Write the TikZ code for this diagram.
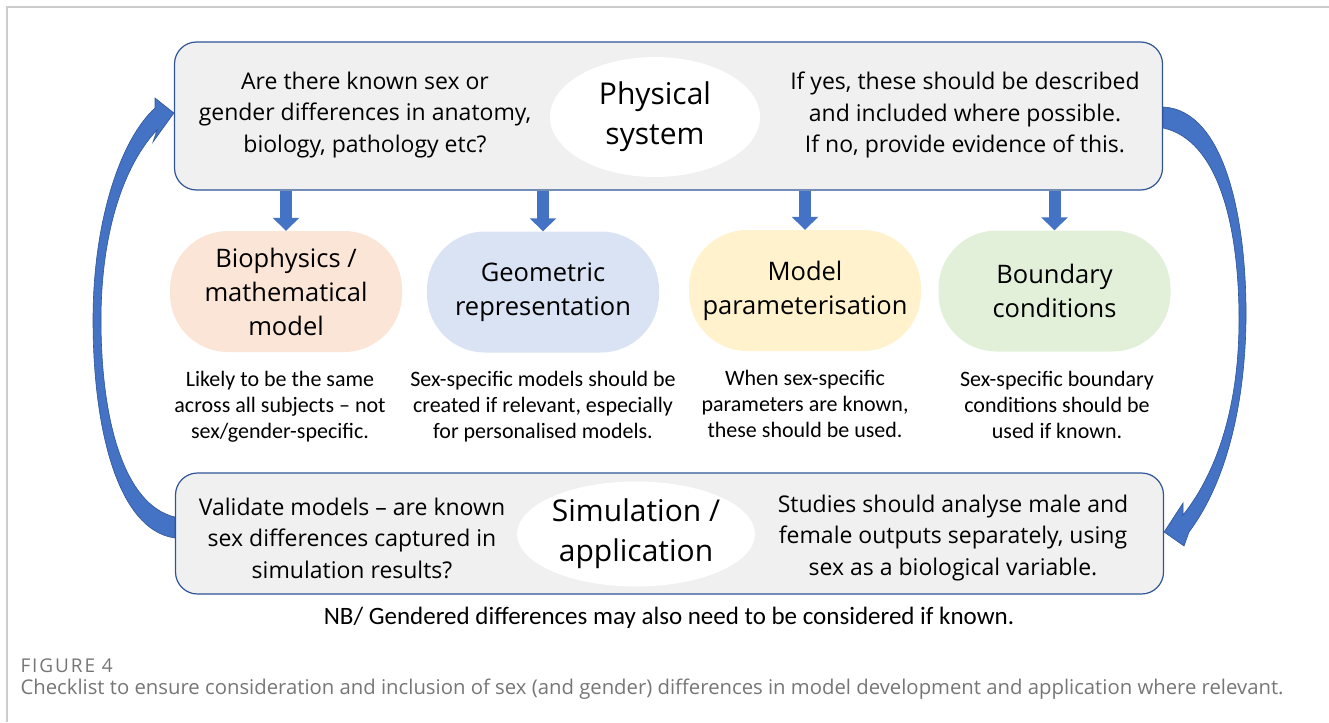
\documentclass[tikz,border=0pt]{standalone}
\usepackage{fontspec}
\setmainfont{Open Sans}
\newfontfamily\notefont{Carlito}
\usetikzlibrary{shapes.geometric,arrows.meta,positioning}

\definecolor{boxline}{RGB}{47,85,151}
\definecolor{boxfill}{RGB}{240,240,240}
\definecolor{arrblue}{RGB}{68,114,196}
\definecolor{peach}{RGB}{251,229,214}
\definecolor{lilac}{RGB}{218,227,243}
\definecolor{cream}{RGB}{255,242,204}
\definecolor{mint}{RGB}{226,240,217}
\definecolor{capgray}{RGB}{118,118,118}

\tikzstyle{stagebox} = [draw=boxline, fill=boxfill, line width=1.2pt,
    rectangle, rounded corners=22pt, minimum width=988pt, inner sep=0pt]
\tikzstyle{bubble} = [ellipse, fill=white, inner sep=0pt, align=center,
    font=\fontsize{30}{40}\selectfont]
\tikzstyle{side} = [align=center, font=\fontsize{23}{31.5}\selectfont]
\tikzstyle{pill} = [rectangle, rounded corners=58pt, minimum width=232pt,
    minimum height=121pt, align=center, font=\fontsize{25.5}{34}\selectfont]
\tikzstyle{note} = [align=center, font=\notefont\fontsize{22}{26}\selectfont]
\tikzstyle{downarr} = [draw=arrblue, line width=12pt, -{Triangle[width=26pt,length=13pt]}]
\tikzstyle{looparr} = [fill=arrblue, draw=boxline, line width=0.6pt]

\begin{document}
\begin{tikzpicture}[x=1pt,y=-1pt]
    \useasboundingbox (0,0) rectangle (1329,722);
    \draw[black!20, line width=1.6pt] (7,722) -- (7,7) -- (1329,7);

    \node [stagebox, minimum height=148pt] (phys) at (668.5,116) {};
    \node [bubble, minimum width=210pt, minimum height=120pt] (physname) at (655,117) {Physical\\system};
    \node [side] (physq) at (365,115) {Are there known sex or\\gender differences in anatomy,\\biology, pathology etc?};
    \node [side] (physa) at (965,115) {If yes, these should be described\\and included where possible.\\If no, provide evidence of this.};

    \node [pill, fill=peach] (bio) at (286,291.5) {Biophysics /\\mathematical\\model};
    \node [pill, fill=lilac] (geo) at (543,292) {Geometric\\representation};
    \node [pill, fill=cream] (param) at (805,290.5) {Model\\parameterisation};
    \node [pill, fill=mint] (bound) at (1054.5,291) {Boundary\\conditions};

    \draw [downarr] (phys.south -| bio.north) -- (bio.north);
    \draw [downarr] (phys.south -| geo.north) -- (geo.north);
    \draw [downarr] (phys.south -| param.north) -- (param.north);
    \draw [downarr] (phys.south -| bound.north) -- (bound.north);

    \node [note] (bionote) at (280,407) {Likely to be the same\\across all subjects – not\\sex/gender-specific.};
    \node [note] (geonote) at (543,407) {Sex-specific models should be\\created if relevant, especially\\for personalised models.};
    \node [note] (paramnote) at (805,404) {When sex-specific\\parameters are known,\\these should be used.};
    \node [note] (boundnote) at (1057,405) {Sex-specific boundary\\conditions should be\\used if known.};

    \node [stagebox, minimum height=121pt] (sim) at (669.5,533.5) {};
    \node [bubble, minimum width=230pt, minimum height=105pt] (simname) at (636,534) {Simulation /\\application};
    \node [side] (simq) at (352,538) {Validate models – are known\\sex differences captured in\\simulation results?};
    \node [side] (sima) at (953,538) {Studies should analyse male and\\female outputs separately, using\\sex as a biological variable.};

    \fill [looparr] ([yshift=-4.5pt]sim.west) .. controls (118,530) and (93,430) .. (93,320)
        .. controls (93,222) and (120,140) .. (155,108) -- (155,98) -- ([yshift=3pt]phys.west)
        -- (153,142) -- (157,130) .. controls (124,165) and (101,232) .. (101,320)
        .. controls (101,420) and (124,505) .. ([yshift=16.5pt]sim.west) -- cycle;
    \fill [looparr] ([yshift=9pt]phys.east) .. controls (1225,110) and (1247,220) .. (1246,320)
        .. controls (1245,400) and (1228,480) .. (1189,532) -- (1184,546) -- ([yshift=1.5pt]sim.east)
        -- (1183,503) -- (1183,515) .. controls (1215,475) and (1239,410) .. (1239,320)
        .. controls (1239,225) and (1218,140) .. ([yshift=-12pt]phys.east) -- cycle;

    \node [font=\notefont\fontsize{25}{28}\selectfont] (nb) at (669,618) {NB/ Gendered differences may also need to be considered if known.};
    \node [anchor=west, text=capgray, font=\fontsize{19}{20}\selectfont\addfontfeature{LetterSpace=10}] (fig) at (17,666) {FIGURE 4};
    \node [anchor=west, text=capgray, font=\fontsize{20.3}{22}\selectfont] (cap) at (17,689) {Checklist to ensure consideration and inclusion of sex (and gender) differences in model development and application where relevant.};
\end{tikzpicture}
\end{document}
